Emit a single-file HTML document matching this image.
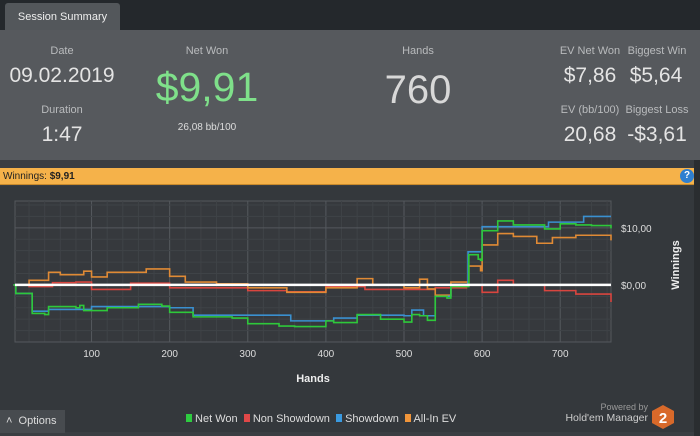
<!DOCTYPE html>
<html><head><meta charset="utf-8">
<style>
body{margin:0;width:700px;height:436px;overflow:hidden;background:#3a3e42;font-family:"Liberation Sans",sans-serif;position:relative}
.abs{position:absolute}
.lbl{color:#b9bbbd;font-size:11px;text-align:center}
.val{color:#e4e4e4;font-size:21px;text-align:center}
</style></head><body>
<div class="abs" style="left:0;top:0;width:700px;height:31px;background:#24282c"></div>
<div class="abs" style="left:5px;top:3px;width:115px;height:28px;background:#53575b;border-radius:3px 3px 0 0;color:#eee;font-size:11px;line-height:28px;text-align:center">Session Summary</div>
<div class="abs" style="left:0;top:30px;width:700px;height:130px;background:#56595d"></div>
<div class="abs lbl" style="left:12px;top:45px;width:100px">Date</div>
<div class="abs val" style="left:2px;top:64px;width:120px">09.02.2019</div>
<div class="abs lbl" style="left:12px;top:104px;width:100px">Duration</div>
<div class="abs val" style="left:12px;top:123px;width:100px">1:47</div>
<div class="abs lbl" style="left:157px;top:45px;width:100px">Net Won</div>
<div class="abs" style="left:137px;top:64px;width:140px;text-align:center;color:#7fe08a;font-size:41px">$9,91</div>
<div class="abs" style="left:157px;top:122px;width:100px;text-align:center;color:#ddd;font-size:10px">26,08 bb/100</div>
<div class="abs lbl" style="left:368px;top:45px;width:100px">Hands</div>
<div class="abs" style="left:358px;top:68px;width:120px;text-align:center;color:#d8d8d8;font-size:40px">760</div>
<div class="abs lbl" style="left:556px;top:45px;width:68px">EV Net Won</div>
<div class="abs lbl" style="left:623px;top:45px;width:68px">Biggest Win</div>
<div class="abs val" style="left:556px;top:64px;width:68px">$7,86</div>
<div class="abs val" style="left:621px;top:64px;width:70px">$5,64</div>
<div class="abs lbl" style="left:556px;top:104px;width:68px">EV (bb/100)</div>
<div class="abs lbl" style="left:623px;top:104px;width:68px">Biggest Loss</div>
<div class="abs val" style="left:556px;top:123px;width:68px">20,68</div>
<div class="abs val" style="left:621px;top:123px;width:72px">-$3,61</div>
<div class="abs" style="left:0;top:168px;width:694px;height:17px;background:#f5b24a;border-bottom:1px solid #c98a2c;font-size:10px;line-height:17px;color:#222;padding-left:3px;box-sizing:border-box">Winnings: <b>$9,91</b></div>
<div class="abs" style="left:680px;top:169px;width:14px;height:14px;border-radius:50%;background:#2f7fd0;color:#fff;font-size:10px;font-weight:bold;text-align:center;line-height:14px">?</div>
<div class="abs" style="left:0;top:186px;width:694px;height:246px;background:#34383c"></div>
<div class="abs" style="left:694px;top:160px;width:6px;height:276px;background:#2a2d30"></div>
<svg class="abs" style="left:0;top:0" width="700" height="436">
<g id="grid"></g><g id="lines"></g><g id="labels"></g>
</svg>
<div class="abs" style="left:0;top:410px;width:65px;height:23px;background:#474b4f;color:#ddd;font-size:11px;line-height:23px;padding-left:6px;box-sizing:border-box">˄&nbsp; Options</div>
<div class="abs" style="left:186px;top:413px;font-size:11px;color:#ddd;white-space:nowrap">
<span><span style="display:inline-block;width:6px;height:8px;background:#2ecc40"></span> Net Won&nbsp;</span>
<span><span style="display:inline-block;width:6px;height:8px;background:#e04848"></span> Non Showdown&nbsp;</span>
<span><span style="display:inline-block;width:6px;height:8px;background:#3a9ae0"></span> Showdown&nbsp;</span>
<span><span style="display:inline-block;width:6px;height:8px;background:#f0953a"></span> All-In EV</span>
</div>
<div class="abs" style="left:580px;top:402px;width:68px;text-align:right;color:#999;font-size:9px">Powered by</div>
<div class="abs" style="left:550px;top:412px;width:98px;text-align:right;color:#ccc;font-size:10.5px">Hold'em Manager</div>
<svg class="abs" style="left:651px;top:404px" width="24" height="26"><polygon points="12,1 23,7 23,19 12,25 1,19 1,7" fill="#d8692a"/><text x="12" y="19" fill="#fff" font-size="15" font-weight="bold" text-anchor="middle" font-family="Liberation Sans">2</text></svg>
<script>
const netHands=[0,3,22,24,40,45,80,85,90,120,160,190,200,230,280,300,340,360,400,410,440,470,500,510,520,530,540,555,560,583,595,598,600,615,620,640,680,700,720,740,765];
const netWon=[0,-1.5,-1.5,-5,-5.2,-3.8,-4,-3.6,-4.5,-4,-3.4,-3.7,-4.8,-5.6,-5.8,-6.8,-7.2,-7.3,-6.3,-6.6,-5.2,-6,-6.5,-5.2,-5.4,-6.2,-2,-2.3,-0.3,5.3,4.5,4.3,9.5,9.5,11.2,10.5,9.8,10.7,10.5,10.4,9.9];
const sdHands=[0,3,24,45,100,200,230,355,410,440,500,510,525,540,560,582,600,685,730,765];
const showdown=[0,-1.5,-4.6,-4.3,-3.8,-4,-5.3,-6.3,-5.8,-5.3,-5.4,-4.4,-5.4,-2,0,5.8,10.2,11,12,12];
const nsHands=[0,20,50,80,100,150,200,300,350,400,450,500,540,580,600,620,640,680,720,765];
const nonShowdown=[0,-0.3,0.4,0.5,-0.8,0.3,-0.5,-1,-1.2,-0.3,-0.8,-0.8,-0.5,0,-1.3,0.8,0,-1,-1.6,-3];
const evHands=[0,20,45,60,90,100,120,170,200,220,260,300,350,400,440,460,500,520,530,540,555,560,583,598,600,620,640,670,690,720,765];
const allInEV=[0,0.8,2.2,1.8,2.4,1.4,2.2,2.8,1.5,0.5,0.2,-0.5,-1.3,-0.5,1.1,0,-0.5,1,-0.7,-1.8,-1.8,0.5,3.3,2.5,7,9,8.5,7.3,8.3,8.7,7.8];
const xTicks=[100,200,300,400,500,600,700];
const yTicks=[0,10];
const yTickLabels=["$0,00","$10,00"];
const X0=15,X1=611,Y0=201,Y1=342,HMIN=2,HMAX=765,VMIN=-10,VMAX=14.7;
const x=h=>X0+(h-HMIN)/(HMAX-HMIN)*(X1-X0);
const y=v=>Y0+(VMAX-v)/(VMAX-VMIN)*(Y1-Y0);
const NS='http://www.w3.org/2000/svg';
function mk(t,a,p){const e=document.createElementNS(NS,t);for(const k in a)e.setAttribute(k,a[k]);p.appendChild(e);return e;}
const g=document.getElementById('grid'),L=document.getElementById('lines'),T=document.getElementById('labels');
let fr=mk('rect',{x:X0,y:Y0,width:X1-X0,height:Y1-Y0,fill:'#36393d',stroke:'#55595d'},g);


for(let h=20;h<HMAX;h+=20){const l=mk('line',{x1:x(h),x2:x(h),y1:Y0,y2:Y1,stroke:h%100?'#3f4347':'#55595e','stroke-width':1},g);

}
for(let v=-10;v<=14;v+=2){const l=mk('line',{x1:X0,x2:X1,y1:y(v),y2:y(v),stroke:v%10?'#3f4347':'#55595e'},g);

}
xTicks.forEach(h=>{const t=mk('text',{x:x(h),y:357,fill:'#ddd','font-size':10,'text-anchor':'middle'},T);t.textContent=h;

});
yTicks.forEach((v,i)=>{const t=mk('text',{x:621,y:y(v)+4,fill:'#ddd','font-size':10},T);t.textContent=yTickLabels[i];

});
let xt=mk('text',{x:313,y:382,fill:'#eee','font-size':11,'font-weight':'bold','text-anchor':'middle'},T);xt.textContent='Hands';


let yt=mk('text',{x:0,y:0,fill:'#eee','font-size':11,'font-weight':'bold','text-anchor':'middle',transform:'translate(679,265) rotate(-90)'},T);yt.textContent='Winnings';


function series(hs,vs,c,name){let d='M'+x(hs[0])+','+y(vs[0]);for(let i=1;i<hs.length;i++){d+='H'+x(hs[i])+'V'+y(vs[i]);}
const p=mk('path',{d:d,fill:'none',stroke:c,'stroke-width':1.6},L);

}
series(nsHands,nonShowdown,'#d9453f','line-non-showdown');
series(evHands,allInEV,'#e08a35','line-all-in-ev');
series(sdHands,showdown,'#3a90d0','line-showdown');
series(netHands,netWon,'#2ec83a','line-net-won');
const z=mk('line',{x1:X0,x2:X1,y1:y(0),y2:y(0),stroke:'#fff','stroke-width':2.5},L);


</script>
</body></html>
